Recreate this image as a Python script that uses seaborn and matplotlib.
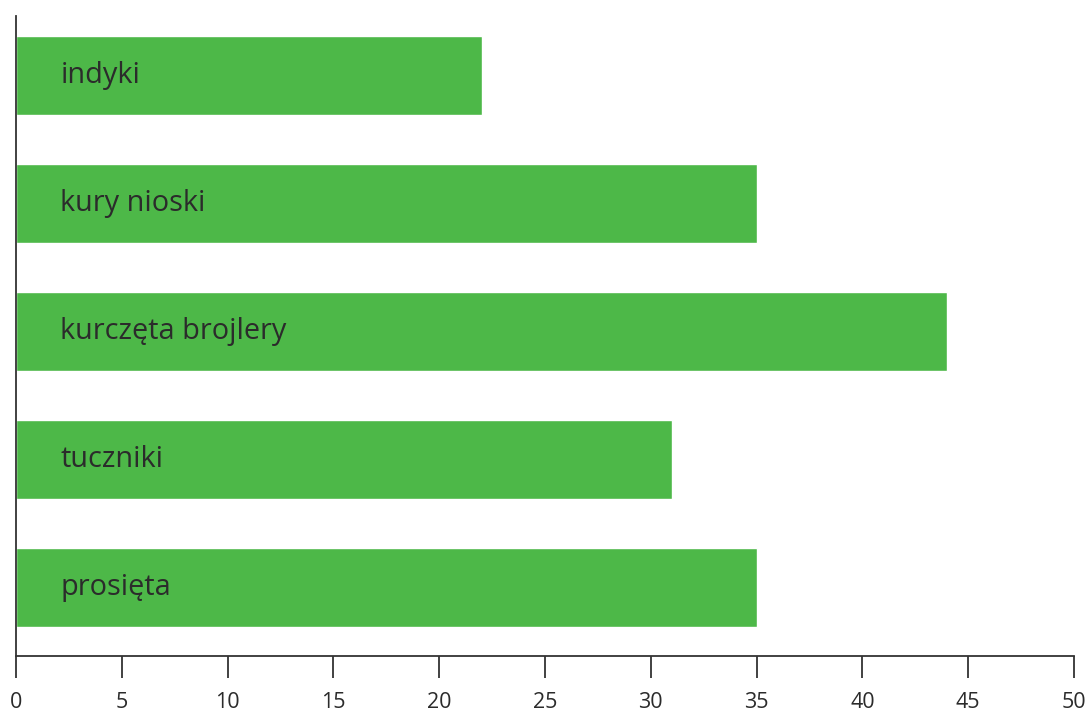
import matplotlib
matplotlib.use("Agg")
import matplotlib.pyplot as plt
import seaborn as sns
import pandas as pd

categories = ["indyki", "kury nioski", "kurczęta brojlery", "tuczniki", "prosięta"]
values = [22, 35, 44, 31, 35]
xticks = [0, 5, 10, 15, 20, 25, 30, 35, 40, 45, 50]

sns.set_theme(style="white")
plt.rcParams['font.family'] = ['Open Sans', 'DejaVu Sans']

df = pd.DataFrame({"cat": categories, "val": values})

fig = plt.figure(figsize=(10.9, 7.11), dpi=100)
ax = fig.add_axes([16/1090, 55/711, (1074-16)/1090, (656-16)/711])
sns.barplot(data=df, x="val", y="cat", orient="h", color="#4DB848", saturation=1,
            width=0.617, ax=ax)

for i, c in enumerate(categories):
    ax.text(2.1, i, c, va="center", ha="left", fontsize=20.8, color="#2b2b2b",
            fontweight="normal")

ax.set_xlim(0, 50)
ax.set_ylim(4.535, -0.465)
ax.set_xticks(xticks)
ax.set_xticklabels([str(t) for t in xticks], fontsize=15.5, color="#2b2b2b",
                   fontweight="normal")
ax.set_yticks([])
ax.set_xlabel("")
ax.set_ylabel("")
for s in ["top", "right"]:
    ax.spines[s].set_visible(False)
for s in ["left", "bottom"]:
    ax.spines[s].set_color("#333333")
    ax.spines[s].set_linewidth(1.3)
ax.tick_params(axis="x", bottom=True, direction="out", length=16, width=1.3,
               color="#333333", pad=10)

fig.savefig("out.png", dpi=100)
